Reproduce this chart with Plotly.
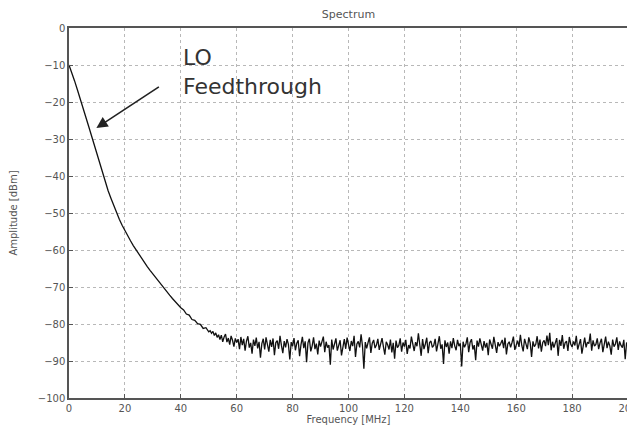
import plotly.graph_objects as go

# Frequency axis (MHz) and amplitude (dBm)
rolloff_freq = list(range(0, 51))
rolloff_dbm = [
    -10.0, -12.0, -14.3, -16.7, -19.0, -21.5, -24.0, -26.5, -29.0, -31.5,
    -34.0, -36.7, -39.5, -41.8, -44.0, -46.0, -48.0, -50.0, -51.7, -53.3,
    -54.8, -56.2, -57.5, -58.8, -60.0, -61.2, -62.3, -63.4, -64.5, -65.5,
    -66.5, -67.5, -68.5, -69.5, -70.4, -71.3, -72.2, -73.1, -74.0, -74.8,
    -75.6, -76.2, -77.3, -77.6, -78.8, -79.0, -79.9, -80.1, -81.2, -81.0,
    -82.1,
]

noise_dbm = [
    -81.8, -82.5, -82.0, -83.1, -82.4, -83.6, -82.9, -84.2, -83.0, -84.8, -83.5, -82.7, -84.9, -83.8, -85.6, -83.2, -84.4, -86.1, -83.9, -85.0,
    -84.1, -86.8, -83.5, -85.7, -84.0, -87.2, -84.6, -83.3, -86.4, -85.1, -88.0, -84.2, -85.9, -83.7, -86.6, -84.8, -89.1, -85.3, -84.0, -86.9,
    -83.6, -85.4, -87.5, -84.3, -86.2, -83.9, -88.4, -85.0, -84.5, -86.7, -83.2, -85.8, -87.9, -84.6, -86.3, -84.1, -85.5, -89.6, -84.9, -86.0,
    -83.8, -87.1, -85.2, -84.4, -88.7, -85.6, -83.5, -86.5, -84.7, -90.3, -85.1, -84.0, -87.4, -85.9, -83.6, -86.8, -85.3, -88.2, -84.5, -86.1,
    -85.0, -83.4, -87.6, -84.8, -86.4, -85.7, -91.0, -84.2, -86.9, -85.3, -83.9, -87.2, -85.6, -84.4, -88.5, -85.8, -84.1, -86.7, -83.7, -85.5,
    -87.3, -84.6, -86.0, -83.2, -88.9, -85.4, -84.7, -86.3, -82.8, -85.9, -92.1, -84.9, -86.6, -85.0, -83.6, -87.8, -85.2, -84.3, -86.5, -85.7,
    -84.0, -87.0, -85.5, -83.8, -86.2, -88.3, -84.8, -85.6, -86.9, -84.2, -87.7, -85.1, -89.4, -84.5, -86.4, -85.8, -83.9, -87.5, -85.0, -86.1,
    -84.3, -88.1, -85.7, -86.6, -83.4, -85.2, -87.3, -84.9, -86.0, -82.5, -85.6, -88.6, -84.1, -86.8, -85.4, -83.7, -87.9, -85.0, -84.6, -86.3,
    -85.8, -84.0, -87.4, -85.1, -83.3, -86.7, -85.5, -90.8, -84.4, -86.2, -85.0, -88.0, -84.7, -86.5, -83.8, -85.9, -87.1, -84.3, -86.0, -85.2,
    -91.5, -84.8, -86.3, -85.4, -83.6, -87.6, -85.0, -84.1, -86.9, -85.7, -89.8, -84.5, -86.1, -83.9, -85.3, -87.2, -84.6, -86.4, -85.1, -88.4,
    -84.2, -85.9, -86.7, -83.5, -85.6, -87.8, -84.9, -86.0, -85.2, -84.3, -86.5, -83.7, -88.2, -85.4, -84.8, -86.3, -85.0, -83.4, -87.0, -85.7,
    -84.5, -86.2, -82.9, -85.8, -87.4, -84.0, -85.3, -86.8, -83.6, -85.1, -88.9, -84.7, -86.1, -85.5, -83.3, -86.6, -84.2, -87.5, -85.0, -84.4,
    -86.0, -83.1, -85.7, -82.4, -87.1, -84.8, -86.4, -85.2, -83.8, -88.6, -84.3, -85.9, -83.0, -86.7, -85.1, -84.6, -87.3, -83.5, -85.4, -86.2,
    -84.7, -85.8, -83.2, -86.9, -85.0, -84.1, -88.0, -85.6, -83.7, -86.3, -84.9, -85.3, -82.6, -87.2, -84.4, -86.0, -85.5, -83.9, -86.8, -85.1,
    -84.0, -87.6, -85.2, -83.4, -86.5, -84.8, -85.9, -88.3, -84.2, -86.1, -85.4, -83.6, -87.0, -84.7, -85.8, -86.4, -84.3, -89.5, -85.0, -86.2,
]
noise_freq = [50.5 + 0.5 * i for i in range(len(noise_dbm))]

freq = rolloff_freq + noise_freq
amp = rolloff_dbm + noise_dbm

x_ticks = [0, 20, 40, 60, 80, 100, 120, 140, 160, 180, 200]
y_ticks = [0, -10, -20, -30, -40, -50, -60, -70, -80, -90, -100]

fig = go.Figure()
fig.add_trace(go.Scatter(x=freq, y=amp, mode="lines",
                         line=dict(color="#111111", width=1.3),
                         showlegend=False))

axis_common = dict(
    showgrid=True, gridcolor="#b8b8b8", griddash="dot", gridwidth=1,
    showline=True, linecolor="#555555", linewidth=1.5, mirror=True,
    ticks="inside", ticklen=4, tickcolor="#555555",
    tickfont=dict(family="DejaVu Sans", size=10, color="#555555"),
    zeroline=False, automargin=False, ticklabeloverflow="allow",
)

fig.update_xaxes(range=[0, 200], tickvals=x_ticks,
                 title=dict(text="Frequency [MHz]", standoff=2,
                            font=dict(family="DejaVu Sans", size=10, color="#555555")),
                 **axis_common)
fig.update_yaxes(range=[-100, 0], tickvals=y_ticks,
                 title=dict(text="Amplitude [dBm]", standoff=20,
                            font=dict(family="DejaVu Sans", size=10, color="#555555")),
                 **axis_common)

fig.add_annotation(x=40.2, y=-4.0, xref="x", yref="y",
                   text="LO<br>Feedthrough", showarrow=False,
                   xanchor="left", yanchor="top", align="left",
                   font=dict(family="DejaVu Sans", size=22, color="#333333"))
fig.add_annotation(x=9.8, y=-27, xref="x", yref="y", text="",
                   showarrow=True, arrowhead=2, arrowsize=1.4, arrowwidth=1.6,
                   arrowcolor="#222222", ax=64, ay=-42)

# The page body adds an 8px offset, so the figure is sized to fit the window
fig.update_layout(
    width=627, height=424,
    margin=dict(l=61, r=7, t=20, b=34, autoexpand=False),
    paper_bgcolor="white", plot_bgcolor="white",
    title=dict(text="Spectrum", x=0.5, xref="paper", xanchor="center",
               y=0.995, yref="container", yanchor="top",
               font=dict(family="DejaVu Sans", size=11, color="#555555")),
)

fig.write_html("out.html")
